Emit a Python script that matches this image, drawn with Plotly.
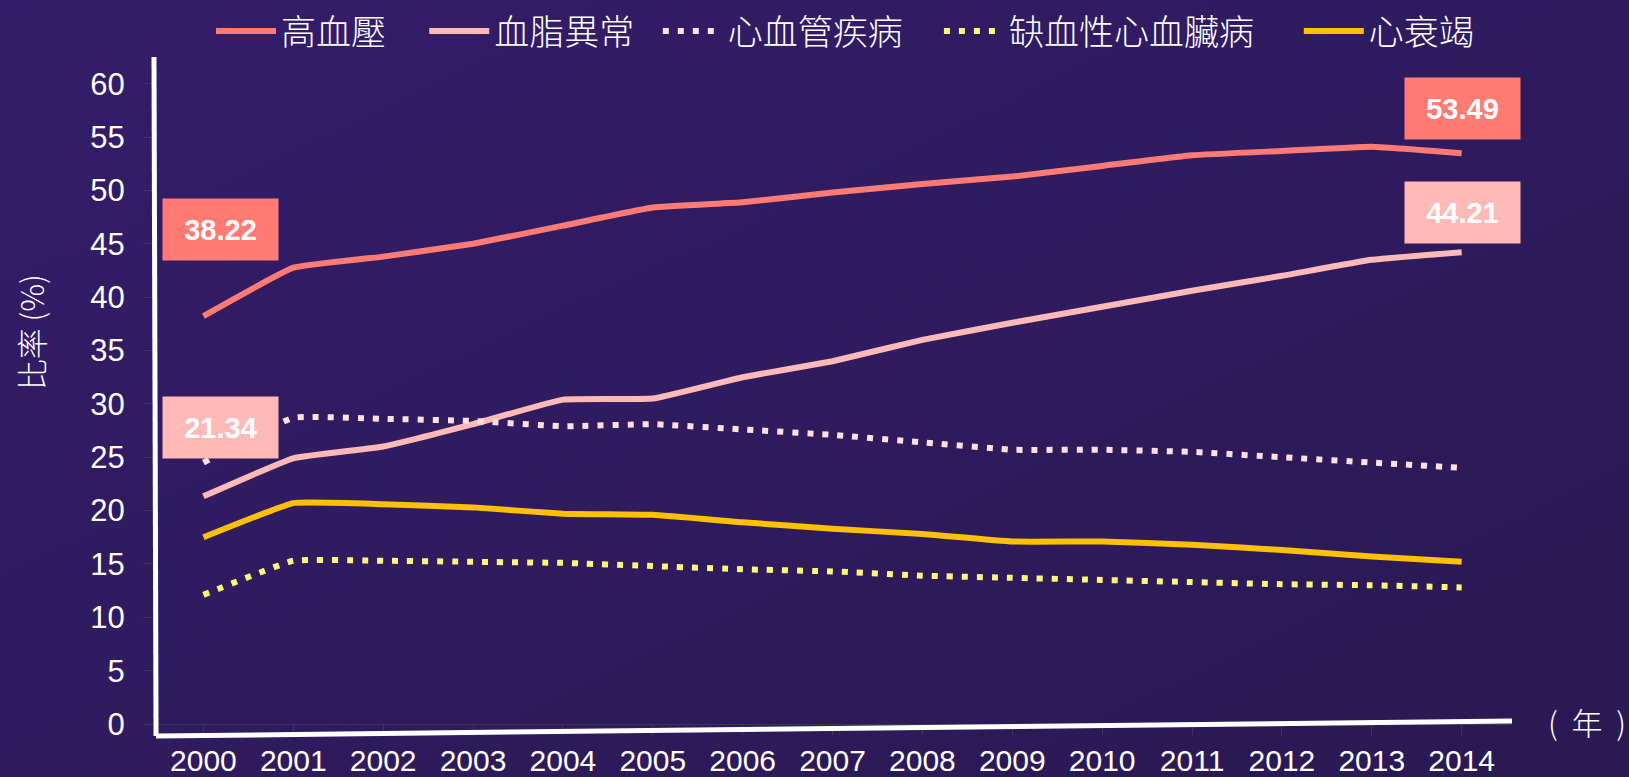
import plotly.graph_objects as go

years = list(range(2000, 2015))

hypertension = [38.22, 42.76, 43.8, 45.0, 46.7, 48.4, 48.9, 49.8, 50.6, 51.3, 52.3, 53.3, 53.7, 54.1, 53.49]
dyslipidemia = [21.34, 24.9, 26.0, 28.1, 30.4, 30.5, 32.5, 34.0, 36.0, 37.6, 39.1, 40.6, 42.0, 43.5, 44.21]
cardiovascular = [24.5, 28.7, 28.6, 28.4, 27.9, 28.1, 27.6, 27.1, 26.4, 25.7, 25.7, 25.5, 25.0, 24.5, 24.0]
ischemic = [12.1, 15.3, 15.3, 15.2, 15.1, 14.8, 14.5, 14.3, 13.9, 13.7, 13.5, 13.3, 13.1, 13.0, 12.8]
heart_failure = [17.5, 20.7, 20.6, 20.3, 19.7, 19.6, 18.9, 18.3, 17.8, 17.1, 17.1, 16.8, 16.3, 15.7, 15.2]

series = [
    ("高血壓", hypertension, "#FF7B74", "solid"),
    ("血脂異常", dyslipidemia, "#FFB9B6", "solid"),
    ("心血管疾病", cardiovascular, "#FFE0DE", "6px,9px"),
    ("缺血性心血臟病", ischemic, "#FFF67A", "6px,9px"),
    ("心衰竭", heart_failure, "#FFC000", "solid"),
]
# one legend per series so the spacing follows the original
legend_x = [0.042, 0.199, 0.371, 0.578, 0.843]

num_font = "Liberation Sans Narrow, Arial Narrow, Liberation Sans, Arial, sans-serif"
cjk_font = "Noto Sans CJK TC, Noto Sans CJK SC, sans-serif"

fig = go.Figure()
legends = {}
for i, (name, vals, col, dash) in enumerate(series):
    lg = "legend" if i == 0 else "legend%d" % (i + 1)
    fig.add_trace(go.Scatter(x=years, y=vals, name=name, mode="lines", legend=lg,
                             line=dict(color=col, width=6, dash=dash, shape="spline", smoothing=0.3)))
    legends[lg] = dict(orientation="h", x=legend_x[i], xanchor="left", y=1.037, yanchor="middle",
                       font=dict(family=cjk_font, size=35, color="white", weight=300),
                       itemwidth=60, bgcolor="rgba(0,0,0,0)")

# value boxes at both ends
boxes = [(2000, hypertension[0], "#FF7B74", 17, 87),
         (2000, dyslipidemia[0], "#FFB9B6", 17, 69),
         (2014, hypertension[-1], "#FF7B74", 1, 45),
         (2014, dyslipidemia[-1], "#FFB9B6", 1, 40)]
for x, y, col, dx, dy in boxes:
    fig.add_annotation(x=x, y=y, text="<b>%.2f</b>" % y, showarrow=False,
                       xshift=dx, yshift=dy, bgcolor=col, width=113, height=59,
                       font=dict(family="Liberation Sans, Arial, sans-serif", size=29, color="white"))

# axis titles
fig.add_annotation(x=-0.091, y=0.587, xref="paper", yref="paper", text="比率 (%)", textangle=-90,
                   xanchor="center", yanchor="middle",
                   showarrow=False, font=dict(family=cjk_font, size=31, color="white", weight=300))
fig.add_annotation(x=1.055, y=0.004, xref="paper", yref="paper", text="(&nbsp;&nbsp;年&nbsp;&nbsp;)",
                   xanchor="center", yanchor="middle",
                   showarrow=False, font=dict(family=cjk_font, size=31, color="white", weight=300))

# gradient background
svg = ("data:image/svg+xml;utf8,<svg xmlns='http://www.w3.org/2000/svg' width='100' height='100' preserveAspectRatio='none'>"
       "<defs><linearGradient id='g' x1='0' y1='0' x2='1' y2='1'>"
       "<stop offset='0' stop-color='%23341D6A'/><stop offset='1' stop-color='%232A1953'/></linearGradient></defs>"
       "<rect width='100' height='100' fill='url(%23g)'/></svg>")
fig.add_layout_image(source=svg, xref="paper", yref="paper", x=-0.1134, y=1.0838,
                     sizex=1.1996, sizey=1.1631, sizing="stretch", xanchor="left", yanchor="top",
                     layer="below")

# hand drawn white axes
fig.add_shape(type="line", xref="paper", yref="paper", x0=0.0, y0=0.9985, x1=0.0015, y1=-0.018,
              line=dict(color="white", width=5))
fig.add_shape(type="line", xref="paper", yref="paper", x0=0.0015, y0=-0.018, x1=1.0, y1=0.0045,
              line=dict(color="white", width=5))

fig.update_layout(
    width=1629, height=777,
    margin=dict(l=154, r=117, t=56, b=53, autoexpand=False),
    paper_bgcolor="#301B62", plot_bgcolor="rgba(0,0,0,0)",
    showlegend=True,
    **legends,
)
fig.update_xaxes(range=[1999.45, 2014.56], tickvals=years, showgrid=False, zeroline=False,
                 showline=True, linecolor="#3a3a4a", linewidth=1,
                 ticks="outside", ticklen=10, tickcolor="#3a3a4a",
                 tickfont=dict(family=num_font, size=30, color="white"))
fig.update_yaxes(range=[0, 62.6], dtick=5, showgrid=False, zeroline=False, showline=False,
                 ticks="outside", ticklen=10, tickcolor="#3a3a4a", ticklabelstandoff=12,
                 tickfont=dict(family=num_font, size=31, color="white"))

fig.write_html("out.html", config={"displayModeBar": False},
               post_script="document.body.style.margin='0';document.body.style.background='#301B62';")
